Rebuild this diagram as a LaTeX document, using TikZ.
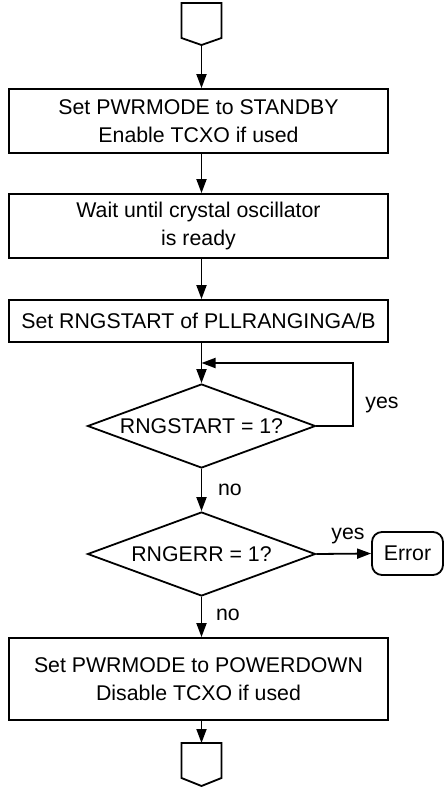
\documentclass[tikz,border=0pt]{standalone}
\usepackage{fontspec}
\setmainfont{Liberation Sans}
\usetikzlibrary{arrows.meta}
\usetikzlibrary{shapes.geometric}

\begin{document}
\begin{tikzpicture}[x=1pt,y=-1pt,line width=1.8pt,
    font=\fontsize{21.3}{28}\selectfont,
    >={Triangle[length=14pt,width=10pt]},
    box/.style={draw,align=center,minimum width=379pt,inner sep=0pt},
    test/.style={draw,diamond,aspect=2.7,inner sep=0pt,minimum width=228pt,minimum height=84pt},
    term/.style={draw,rounded corners=10pt,minimum width=71pt,minimum height=43pt,inner sep=0pt}]
            \useasboundingbox (0,0) rectangle (445,788);
            \coordinate (in) at (201.5,45);
            \coordinate (out) at (201.5,743);
            \coordinate (loop) at (201.5,363);
            \coordinate (turn) at (353,363);
            \draw (in) -- (181.5,38) -- (181.5,3) -- (221.5,3) -- (221.5,38) -- cycle;
            \node[box,minimum height=64pt] (standby) at (198.5,121) {Set PWRMODE to STANDBY\\Enable TCXO if used};
            \node[box,minimum height=64pt] (xtal) at (198.5,226) {Wait until crystal oscillator\\is ready};
            \node[box,minimum height=42pt] (rng) at (198.5,321) {Set RNGSTART of PLLRANGINGA/B};
            \node[test] (ask1) at (201.5,426) {RNGSTART = 1?};
            \node[test] (ask2) at (201.5,554) {RNGERR = 1?};
            \node[term] (error) at (407.5,553.5) {Error};
            \node[box,minimum height=82pt] (powerdown) at (198.5,679) {Set PWRMODE to POWERDOWN\\Disable TCXO if used};
            \draw (out) -- (181.5,743) -- (181.5,778) -- (201.5,786) -- (221.5,778) -- (221.5,743) -- cycle;
            \draw[->] (in) -- (in |- standby.north);
            \draw[->] (in |- standby.south) -- (in |- xtal.north);
            \draw[->] (in |- xtal.south) -- (in |- rng.north);
            \draw[->] (in |- rng.south) -- (ask1.north);
            \draw[->] (ask1.east) -| (turn) -- (loop);
            \draw[->] (ask1.south) -- (ask2.north);
            \draw[->] (ask2.east) -- (error.west);
            \draw[->] (ask2.south) -- (in |- powerdown.north);
            \draw[->] (in |- powerdown.south) -- (out);
            \node (yes1) at (382,405) {yes};
            \node (no1) at (230,490) {no};
            \node (yes2) at (348,536) {yes};
            \node (no2) at (228,615) {no};
        \end{tikzpicture}
\end{document}
